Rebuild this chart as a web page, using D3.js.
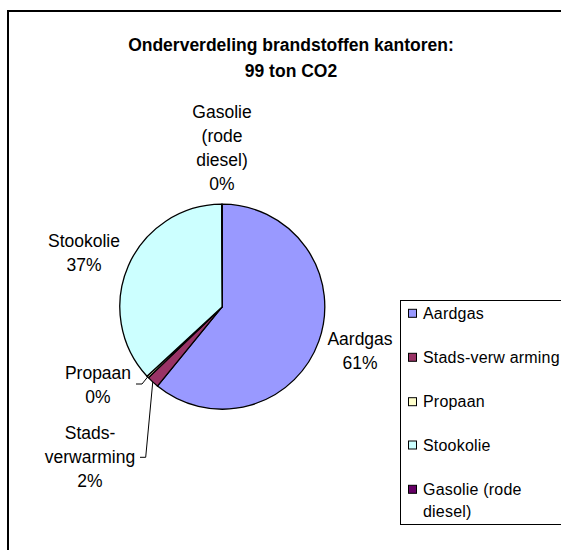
<!DOCTYPE html>
<html>
<head>
<meta charset="utf-8">
<script src="https://cdn.jsdelivr.net/npm/d3@7"></script>
<style>
  body { margin: 0; background: #fff; }
  text { font-family: "Liberation Sans", Arial, sans-serif; fill: #000; }
</style>
</head>
<body>
<div id="chart"></div>
<script>
// data (ton CO2, total 99)
var categories = ["Aardgas", "Stads-verwarming", "Propaan", "Stookolie", "Gasolie (rode diesel)"];
var values = [60.3, 1.9, 0.3, 36.4, 0.1];
var colors = ["#9999FF", "#993366", "#FFFFCC", "#CCFFFF", "#660066"];
var pieLabels = [["Aardgas"], ["Stads-", "verwarming"], ["Propaan"], ["Stookolie"], ["Gasolie", "(rode", "diesel)"]];
var legendLabels = [["Aardgas"], ["Stads-verw arming"], ["Propaan"], ["Stookolie"], ["Gasolie (rode", "diesel)"]];
var titleLines = ["Onderverdeling brandstoffen kantoren:", "99 ton CO2"];

var width = 561, height = 550;
var cx = 222.3, cy = 306.7, radius = 102.5;

var svg = d3.select("#chart").append("svg")
    .attr("width", width)
    .attr("height", height);

// outer frame (runs off the right and bottom)
svg.append("rect")
    .attr("x", 8).attr("y", 11)
    .attr("width", 700).attr("height", 700)
    .attr("fill", "none")
    .attr("stroke", "#000")
    .attr("stroke-width", 2);

// title
svg.append("text")
    .attr("x", 291)
    .attr("text-anchor", "middle")
    .style("font-weight", "bold")
    .style("font-size", "17.5px")
    .selectAll("tspan")
    .data(titleLines)
    .enter().append("tspan")
    .attr("x", 291)
    .attr("y", function(d, i) { return 51 + i * 25.5; })
    .text(function(d) { return d; });

var total = d3.sum(values);
var data = categories.map(function(c, i) { return {name: c, value: values[i], i: i}; });

var pie = d3.pie().sort(null).value(function(d) { return d.value; });
var arc = d3.arc().innerRadius(0).outerRadius(radius);
var arcs = pie(data);

var g = svg.append("g").attr("transform", "translate(" + cx + "," + cy + ")");

g.selectAll(".slice")
    .data(arcs)
    .enter().append("path")
    .attr("class", "slice")
    .attr("d", arc)
    .attr("fill", function(d) { return colors[d.data.i]; })
    .attr("stroke", "#000")
    .attr("stroke-width", 1.3)
    .attr("stroke-linejoin", "round");

// data label anchors (centre x, first baseline) and leader ends
var labelPos = [
    {x: 360, y: 345},
    {x: 90, y: 439, leader: [[140, 457.3], [145.7, 457.3]]},
    {x: 98, y: 379, leader: [[136, 384], [142, 384]]},
    {x: 84, y: 247},
    {x: 222, y: 118}
];

function edgePoint(d) {
    var a = (d.startAngle + d.endAngle) / 2;
    return [cx + radius * Math.sin(a), cy - radius * Math.cos(a)];
}

arcs.forEach(function(d) {
    var p = labelPos[d.data.i];
    var lines = pieLabels[d.data.i].concat([Math.round(d.data.value / total * 100) + "%"]);
    var t = svg.append("text")
        .attr("text-anchor", "middle")
        .style("font-size", "17.5px");
    lines.forEach(function(l, k) {
        t.append("tspan").attr("x", p.x).attr("y", p.y + k * 24).text(l);
    });
    if (p.leader) {
        var pts = p.leader.concat([edgePoint(d)]);
        svg.append("path")
            .attr("d", d3.line()(pts))
            .attr("fill", "none")
            .attr("stroke", "#000")
            .attr("stroke-width", 1);
    }
});

// legend
var legendRows = [313.3, 357.3, 401.7, 445, 489.3];
svg.append("rect")
    .attr("x", 400.5).attr("y", 300.5)
    .attr("width", 200).attr("height", 224)
    .attr("fill", "#fff")
    .attr("stroke", "#000")
    .attr("stroke-width", 1);

var leg = svg.selectAll(".leg")
    .data(data)
    .enter().append("g")
    .attr("class", "leg")
    .attr("transform", function(d, i) { return "translate(0," + legendRows[i] + ")"; });

leg.append("rect")
    .attr("x", 408.5).attr("y", -4)
    .attr("width", 8).attr("height", 8)
    .attr("fill", function(d) { return colors[d.i]; })
    .attr("stroke", "#000")
    .attr("stroke-width", 1);

leg.append("text")
    .style("font-size", "16px")
    .style("letter-spacing", "0.2px")
    .each(function(d) {
        var t = d3.select(this);
        legendLabels[d.i].forEach(function(l, k) {
            t.append("tspan").attr("x", 423).attr("y", 5.7 + k * 22).text(l);
        });
    });
</script>
</body>
</html>
